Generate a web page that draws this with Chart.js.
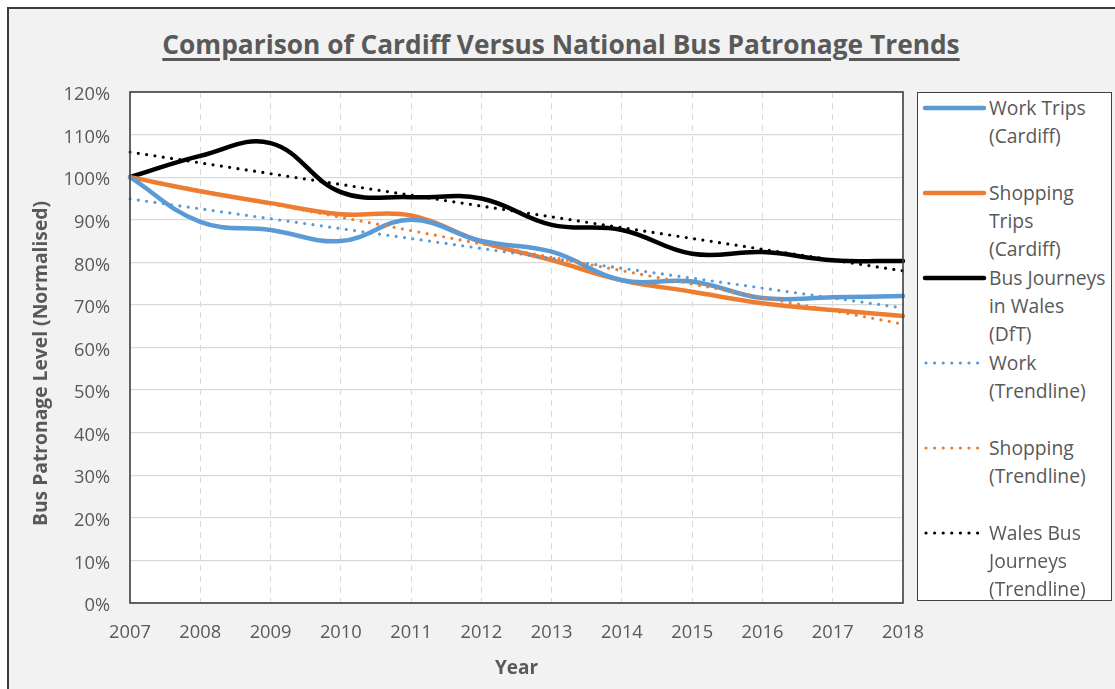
<!DOCTYPE html>
<html>
<head>
<meta charset="utf-8">
<script src="https://cdn.jsdelivr.net/npm/chart.js@4/dist/chart.umd.min.js"></script>
<style>
  html, body { margin: 0; padding: 0; background: #fff; width: 1115px; height: 689px; overflow: hidden; }
  body { font-family: "Open Sans", sans-serif; color: #595959; }
  #frame { position: absolute; left: 7px; top: 7px; width: 1130px; height: 700px; background: #f2f2f2; border: 2px solid #3b3b3b; box-sizing: border-box; }
  #title { position: absolute; left: 0; top: 26px; width: 1122px; text-align: center; font-weight: bold; font-size: 26.3px; text-decoration: underline; text-underline-offset: 4px; text-decoration-thickness: 2.5px; white-space: nowrap; }
  #chart { position: absolute; left: 0; top: 0; }
  #legend { position: absolute; left: 917px; top: 92px; width: 195px; height: 509px; background: #fff; border: 1.5px solid #404040; box-sizing: border-box; }
  .item { position: absolute; left: 0; width: 195px; }
  .item svg { position: absolute; left: 4px; top: 0; }
  .item .txt { position: absolute; left: 71px; top: 0; font-size: 19.3px; line-height: 27.8px; white-space: nowrap; }
</style>
</head>
<body>
<div id="frame"></div>
<div id="title">Comparison of Cardiff Versus National Bus Patronage Trends</div>
<canvas id="chart" width="1115" height="689"></canvas>
<div id="legend"></div>
<script>
const years = ['2007', '2008', '2009', '2010', '2011', '2012', '2013', '2014', '2015', '2016', '2017', '2018'];
const yTicks = [0, 10, 20, 30, 40, 50, 60, 70, 80, 90, 100, 110, 120];
const yTitle = 'Bus Patronage Level (Normalised)';
const xTitle = 'Year';

// values in % (normalised to 2007 = 100)
const workTrips     = [100, 89.5, 87.6, 85.0, 90.0, 85.0, 82.5, 75.8, 75.5, 71.6, 71.8, 72.1];
const shoppingTrips = [100, 96.7, 93.9, 91.3, 91.0, 84.8, 80.5, 75.8, 73.1, 70.4, 68.8, 67.4];
const walesJourneys = [100, 105.0, 108.0, 96.5, 95.3, 95.0, 88.8, 87.6, 82.0, 82.4, 80.5, 80.3];

// trendlines: straight, only the two ends
const workTrend     = [94.9, null, null, null, null, null, null, null, null, null, null, 69.3];
const shoppingTrend = [100.0, null, null, null, null, null, null, null, null, null, null, 65.5];
const walesTrend    = [105.9, null, null, null, null, null, null, null, null, null, null, 78.0];

const seriesNames = [
  ['Work Trips', '(Cardiff)'],
  ['Shopping', 'Trips', '(Cardiff)'],
  ['Bus Journeys', 'in Wales', '(DfT)'],
  ['Work', '(Trendline)'],
  ['Shopping', '(Trendline)'],
  ['Wales Bus', 'Journeys', '(Trendline)']
];

const BLUE = '#5b9bd5', ORANGE = '#ed7d31', BLACK = '#000000';
const FONT = '"Open Sans", sans-serif';
const TEXT = '#595959';

const solid = (name, data, color) => ({
  label: name.join(' '), data, borderColor: color, borderWidth: 4.5,
  tension: 0.4, pointRadius: 0, fill: false, borderCapStyle: 'round'
});
const dotted = (name, data, color) => ({
  label: name.join(' '), data, borderColor: color, borderWidth: 3.2,
  borderDash: [0, 8.4], borderCapStyle: 'round', spanGaps: true,
  tension: 0, pointRadius: 0, fill: false
});

const datasets = [
  dotted(seriesNames[3], workTrend, BLUE),
  dotted(seriesNames[4], shoppingTrend, ORANGE),
  dotted(seriesNames[5], walesTrend, BLACK),
  solid(seriesNames[0], workTrips, BLUE),
  solid(seriesNames[1], shoppingTrips, ORANGE),
  solid(seriesNames[2], walesJourneys, BLACK)
];

// white plot area, dark frame round it, y axis title (sits a bit below centre)
const plotFrame = {
  id: 'plotFrame',
  beforeDraw(c) {
    const { ctx, chartArea: a } = c;
    ctx.save();
    ctx.fillStyle = '#fff';
    ctx.fillRect(a.left, a.top, a.width, a.height);
    ctx.restore();
  },
  afterDraw(c) {
    const { ctx, chartArea: a } = c;
    ctx.save();
    ctx.strokeStyle = '#404040';
    ctx.lineWidth = 1.6;
    ctx.strokeRect(a.left, a.top, a.width, a.height);
    ctx.translate(42, (a.top + a.bottom) / 2 + 16);
    ctx.rotate(-Math.PI / 2);
    ctx.fillStyle = TEXT;
    ctx.font = 'bold 19.3px ' + FONT;
    ctx.textAlign = 'center';
    ctx.textBaseline = 'middle';
    ctx.fillText(yTitle, 0, 0);
    ctx.restore();
  }
};

const chart = new Chart(document.getElementById('chart'), {
  type: 'line',
  data: { labels: years, datasets },
  plugins: [plotFrame],
  options: {
    responsive: false,
    animation: false,
    layout: { padding: { top: 92, right: 212, left: 0, bottom: 0 } },
    plugins: { legend: { display: false }, tooltip: { enabled: false } },
    scales: {
      x: {
        grid: { color: '#d9d9d9', lineWidth: 1, drawTicks: false },
        border: { display: false, dash: [6, 5] },
        ticks: { color: TEXT, font: { family: FONT, size: 18.3 }, padding: 19, maxRotation: 0, autoSkip: false },
        title: { display: true, text: xTitle, color: TEXT, font: { family: FONT, size: 19, weight: 'bold' }, padding: { top: 0, bottom: 9 } },
        afterFit: s => { s.height = 86; s.paddingLeft = 0; s.paddingRight = 0; }
      },
      y: {
        min: 0, max: 120,
        afterBuildTicks: s => { s.ticks = yTicks.map(v => ({ value: v })); },
        grid: { color: '#d9d9d9', lineWidth: 1.2, drawTicks: false },
        border: { display: false },
        ticks: { color: TEXT, font: { family: FONT, size: 18.3 }, padding: 20, labelOffset: 3, callback: v => v + '%' },
        afterFit: s => { s.width = 130; s.paddingTop = 0; s.paddingBottom = 0; }
      }
    }
  }
});

// Legend (html, multi-line labels)
const legendOrder = [3, 4, 5, 0, 1, 2];
const legend = document.getElementById('legend');
legend.innerHTML = legendOrder.map((di, i) => {
  const ds = chart.data.datasets[di];
  const isDot = ds.borderDash && ds.borderDash.length;
  const line = isDot
    ? `<line x1="4" y1="14" x2="56" y2="14" stroke="${ds.borderColor}" stroke-width="3.2" stroke-linecap="round" stroke-dasharray="0 8.6"/>`
    : `<line x1="3" y1="14" x2="62" y2="14" stroke="${ds.borderColor}" stroke-width="4.5" stroke-linecap="round"/>`;
  return `<div class="item" style="top:${1 + i * 85}px">
    <svg width="66" height="28">${line}</svg>
    <div class="txt">${seriesNames[i].join('<br>')}</div>
  </div>`;
}).join('');
</script>
</body>
</html>
